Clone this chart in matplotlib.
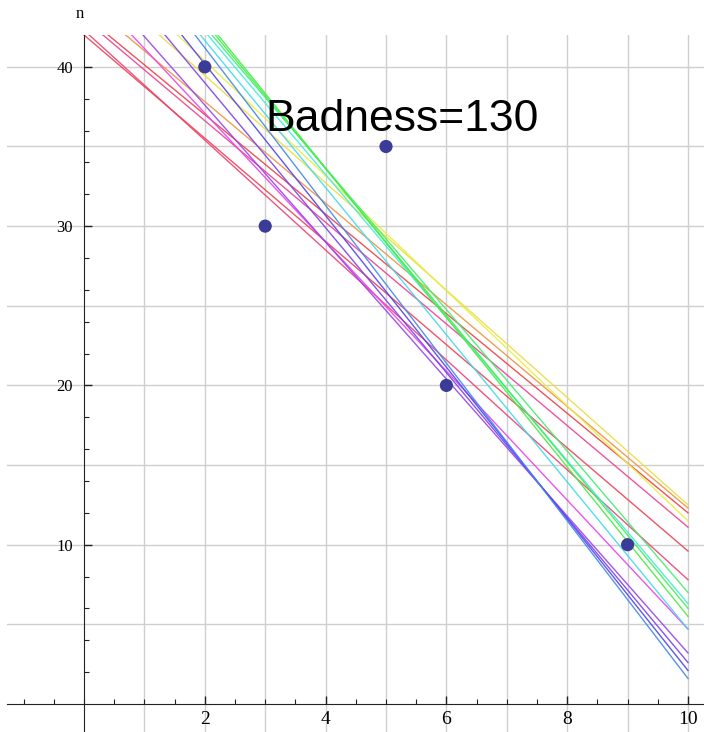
import numpy as np
import matplotlib
matplotlib.use("Agg")
import matplotlib.pyplot as plt
from matplotlib.colors import hsv_to_rgb

# data points
px = [2, 3, 5, 6, 9]
py = [40, 30, 35, 20, 10]

# candidate fit lines: y = a + b*x, drawn over 0..10
intercepts = [42.3, 42.0, 43.0, 43.25, 44.2, 45.2, 46.2, 46.2, 48.1, 47.6,
              49.7, 51.1, 50.9, 51.2, 51.4, 52.0, 52.4]
slopes = [-3.45, -3.24, -3.19, -3.125, -3.19, -4.05, -4.30, -3.37, -4.55, -3.61,
          -4.76, -4.95, -4.62, -4.49, -4.44, -4.60, -4.69]
hues = [0.95, 0.98, 0.92, 0.00, 0.08, 0.83, 0.75, 0.15, 0.72, 0.17,
        0.68, 0.60, 0.52, 0.48, 0.38, 0.35, 0.33]

badness = 130

fig = plt.figure(figsize=(7.04, 7.32), dpi=100)
ax = fig.add_axes([7/704, 0, 697/704, 697/732])
ax.set_xlim(-1.275, 10.265)
ax.set_ylim(-1.76, 42)

# grid
for gx in range(1, 11):
    ax.axvline(gx, color="#cfcfcf", lw=1.0, zorder=0)
for gy in range(5, 45, 5):
    ax.axhline(gy, color="#cfcfcf", lw=1.0, zorder=0)

xs = np.array([0.0, 10.0])
for a, b, h in zip(intercepts, slopes, hues):
    col = hsv_to_rgb([h, 0.72, 0.93])
    ax.plot(xs, a + b * xs, color=col, lw=1.0, alpha=0.9, zorder=2)

ax.scatter(px, py, s=90, color="#3b3b98", zorder=3, edgecolors="none")

ax.text(3.0, 35.95, f"Badness={badness}", fontsize=32,
        family="Liberation Sans", color="black", zorder=4)

# mathematica-like axes
for s in ["top", "right"]:
    ax.spines[s].set_visible(False)
ax.spines["left"].set_position(("data", 0))
ax.spines["bottom"].set_position(("data", 0))
ax.spines["left"].set_color("#222222")
ax.spines["bottom"].set_color("#222222")

ax.set_xticks([2, 4, 6, 8, 10])
ax.set_xticks(np.arange(-1, 10.01, 0.5), minor=True)
ax.set_yticks([10, 20, 30, 40])
ax.set_yticks(np.arange(2, 42, 2), minor=True)
ax.tick_params(axis="both", which="major", direction="in", length=6, width=1,
               color="#222222")
ax.tick_params(axis="both", which="minor", direction="in", length=3.5, width=0.8,
               color="#222222")
ax.tick_params(axis="x", which="major", pad=5)
ax.tick_params(axis="y", which="major", pad=8)
for lab in ax.get_xticklabels():
    lab.set_fontfamily("Liberation Serif")
    lab.set_fontsize(14)
for lab in ax.get_yticklabels():
    lab.set_fontfamily("Liberation Serif")
    lab.set_fontsize(12)

fig.text(80/704, 1 - 14/732, "n", family="Liberation Serif", fontsize=12,
         ha="center", va="center")

fig.savefig("out.png", dpi=100)
